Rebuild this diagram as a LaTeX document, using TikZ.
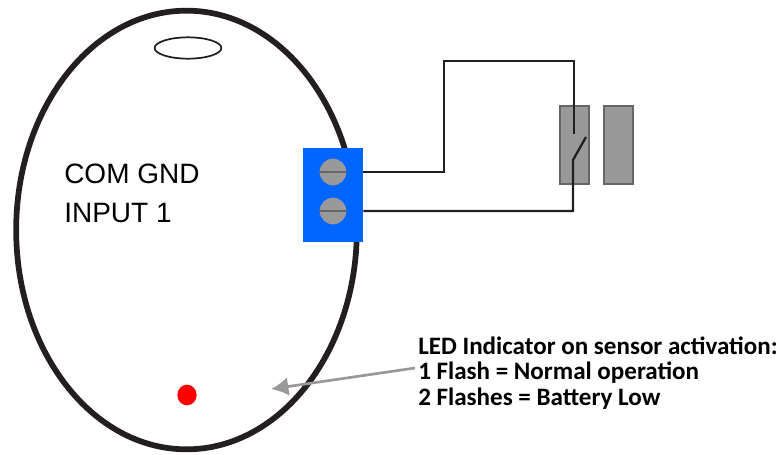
\documentclass[tikz,border=0pt]{standalone}
\usepackage{xcolor}
\usepackage{fontspec}
\setmainfont{Liberation Sans}
\newfontfamily\notefont{Carlito}
\usetikzlibrary{calc}
\usetikzlibrary{arrows.meta}
\usetikzlibrary{shapes.geometric}
\definecolor{blockblue}{HTML}{0066FF}
\definecolor{partgrey}{HTML}{999999}
\definecolor{edgegrey}{HTML}{666666}
\definecolor{wireblack}{HTML}{231F20}
\tikzset{
	magnet/.style={draw=edgegrey, fill=partgrey, line width=1.5pt, minimum width=22pt, minimum height=58pt, inner sep=0pt},
	screw/.style={circle, fill=partgrey, minimum size=20pt, inner sep=0pt},
	wire/.style={draw=wireblack, line width=1.7pt},
	label/.style={inner sep=0pt, anchor=base west, font=\fontsize{21}{21}\selectfont}
}

\begin{document}
\begin{tikzpicture}[x=0.75pt, y=-0.75pt]
			\useasboundingbox (0,0) rectangle (782,454);
			\node[ellipse, draw=wireblack, line width=4.3pt, minimum width=255.5pt, minimum height=329pt, inner sep=0pt] (body) at (186.5,230) {};
			\node[ellipse, draw=wireblack, line width=1.3pt, minimum width=50pt, minimum height=16pt, inner sep=0pt] (hole) at (188,48) {};
			\node[label] (com) at (64,183) {COM GND};
			\node[label] (input) at (64,222.5) {INPUT 1};
			\node[fill=blockblue, minimum width=45pt, minimum height=70.5pt, inner sep=0pt] (block) at (333,195) {};
			\node[screw] (screwa) at (333,172) {};
			\node[screw] (screwb) at (333,211) {};
			\draw[edgegrey, line width=1.2pt] (screwa.west) -- (screwa.east);
			\draw[edgegrey, line width=1.2pt] (screwb.west) -- (screwb.east);
			\node[magnet] (reedl) at (574.5,145) {};
			\node[magnet] (reedr) at (618.5,145) {};
			\coordinate (topwire) at (574,134);
			\coordinate (pivot) at (573,160);
			\coordinate (contact) at (586,137);
			\draw[wire] (screwa -| block.east) -- (444,172) -- (444,61) -- (574,61) -- (topwire);
			\draw[wire] (screwb -| block.east) -- (573,211) -- (pivot) -- (contact);
			\node[ellipse, fill=red, minimum width=14.5pt, minimum height=15.5pt, inner sep=0pt] (led) at (187,395) {};
			\node[anchor=north west, align=left, inner sep=0pt, font=\notefont\bfseries\fontsize{18.8}{19}\selectfont] (note) at (418,336.5)
			{
				LED Indicator on sensor activation:\\
				1 Flash = Normal operation\\
				2 Flashes = Battery Low
			};
			\coordinate (notearrow) at (415,368);
			\coordinate (ledarrow) at (271,389);
			\draw[-{Latex[length=13pt, width=14pt]}, partgrey, line width=2pt] (notearrow) -- (ledarrow);
		\end{tikzpicture}
\end{document}
